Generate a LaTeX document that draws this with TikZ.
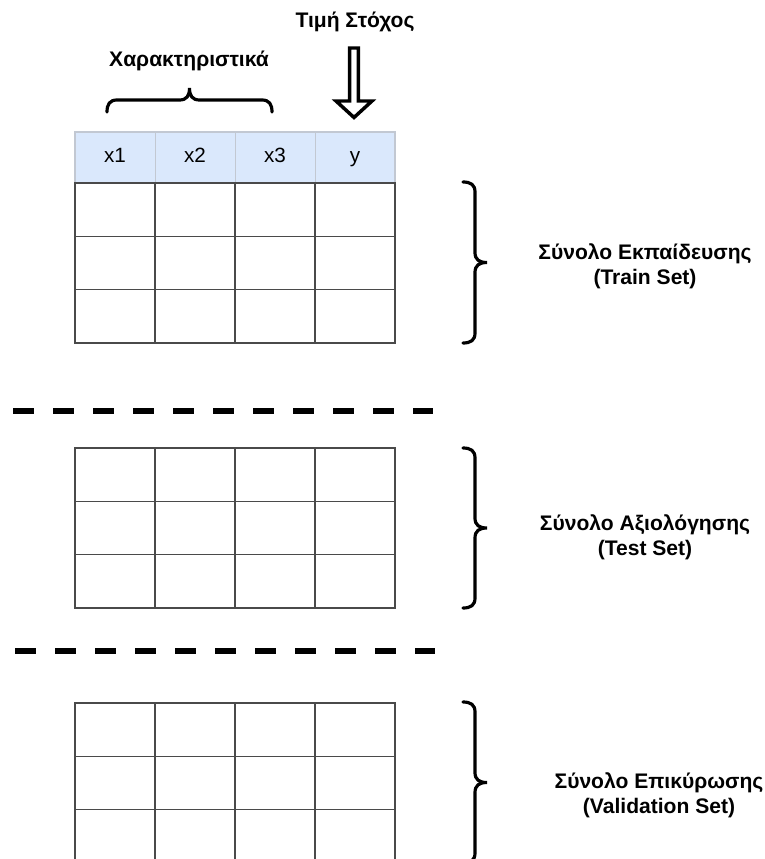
\documentclass[tikz,border=0pt]{standalone}
\usepackage{fontspec}
\setmainfont{Liberation Sans}

\definecolor{headblue}{HTML}{DAE8FC}
\definecolor{headline}{HTML}{C2C8D2}
\definecolor{gridgray}{HTML}{4A4A4A}

\tikzset{
    setlabel/.style={align=center, font=\bfseries\fontsize{15.8}{18.75}\selectfont},
    headcell/.style={anchor=base, font=\fontsize{15.5}{18}\selectfont},
    bracepen/.style={line width=2.4pt, line cap=round},
    splitline/.style={line width=4.2pt, dash pattern=on 15.75pt off 14.25pt},
    gridline/.style={draw=gridgray, line width=1pt},
    pics/sidebrace/.style={code={
        \draw[bracepen] (0,0) .. controls (8,0) and (12,3) .. (12,10) -- (12,#1/2-10)
            .. controls (12,#1/2-3) and (16,#1/2) .. (24,#1/2)
            .. controls (16,#1/2) and (12,#1/2+3) .. (12,#1/2+10) -- (12,#1-10)
            .. controls (12,#1-3) and (8,#1) .. (0,#1);
    }},
    pics/topbrace/.style={code={
        \draw[bracepen] (0,0) .. controls (0,-8) and (3,-12) .. (10,-12) -- (#1/2-10,-12)
            .. controls (#1/2-3,-12) and (#1/2,-16) .. (#1/2,-24)
            .. controls (#1/2,-16) and (#1/2+3,-12) .. (#1/2+10,-12) -- (#1-10,-12)
            .. controls (#1-3,-12) and (#1,-8) .. (#1,0);
    }},
}

\begin{document}
\begin{tikzpicture}[x=0.75pt, y=-0.75pt]
        \useasboundingbox (0,0) rectangle (764,859);
        \clip (0,0) rectangle (764,859);

        % Labels above the table
        \node[setlabel] (target) at (355,22) {Τιμή Στόχος};
        \node[setlabel] (features) at (189,61) {Χαρακτηριστικά};
        \pic at (107,112) {topbrace=165};

        % Target arrow
        \begin{scope}[shift={(354,48)}]
            \draw[line width=2.6pt, fill=white] (-4.4,0) -- (-4.4,53) -- (-18,53) -- (0,69.5)
                -- (18,53) -- (4.4,53) -- (4.4,0) -- cycle;
        \end{scope}

        % Train set
        \begin{scope}[shift={(75,132)}]
            \draw[fill=headblue, draw=headline, line width=1pt] (0,0) rectangle (320,51);
            \draw[headline, line width=0.6pt] (80,0) -- (80,51) (160,0) -- (160,51) (240,0) -- (240,51);
            \node[headcell] (x1) at (40,31) {x1};
            \node[headcell] (x2) at (120,31) {x2};
            \node[headcell] (x3) at (200,31) {x3};
            \node[headcell] (y) at (280,31) {y};

            \draw[gridline] (0,51) rectangle (320,211);
            \draw[gridline] (80,51) -- (80,211) (160,51) -- (160,211) (240,51) -- (240,211);
            \draw[gridline] (0,104.3) -- (320,104.3) (0,157.7) -- (320,157.7);
        \end{scope}
        \pic at (463,182) {sidebrace=161};
        \node[setlabel] (train) at (645,266) {Σύνολο Εκπαίδευσης\\(Train Set)};

        \draw[splitline] (13,411) -- (433,411);

        % Test set
        \begin{scope}[shift={(75,448)}]
            \draw[gridline] (0,0) rectangle (320,160);
            \draw[gridline] (80,0) -- (80,160) (160,0) -- (160,160) (240,0) -- (240,160);
            \draw[gridline] (0,53.3) -- (320,53.3) (0,106.7) -- (320,106.7);
        \end{scope}
        \pic at (463,448) {sidebrace=160};
        \node[setlabel] (test) at (645,537) {Σύνολο Αξιολόγησης\\(Test Set)};

        \draw[splitline] (15,651) -- (435,651);

        % Validation set
        \begin{scope}[shift={(75,703)}]
            \draw[gridline] (0,0) rectangle (320,160);
            \draw[gridline] (80,0) -- (80,160) (160,0) -- (160,160) (240,0) -- (240,160);
            \draw[gridline] (0,53.3) -- (320,53.3) (0,106.7) -- (320,106.7);
        \end{scope}
        \pic at (463,702) {sidebrace=161};
        \node[setlabel] (valid) at (659,795) {Σύνολο Επικύρωσης\\(Validation Set)};
    \end{tikzpicture}
\end{document}
